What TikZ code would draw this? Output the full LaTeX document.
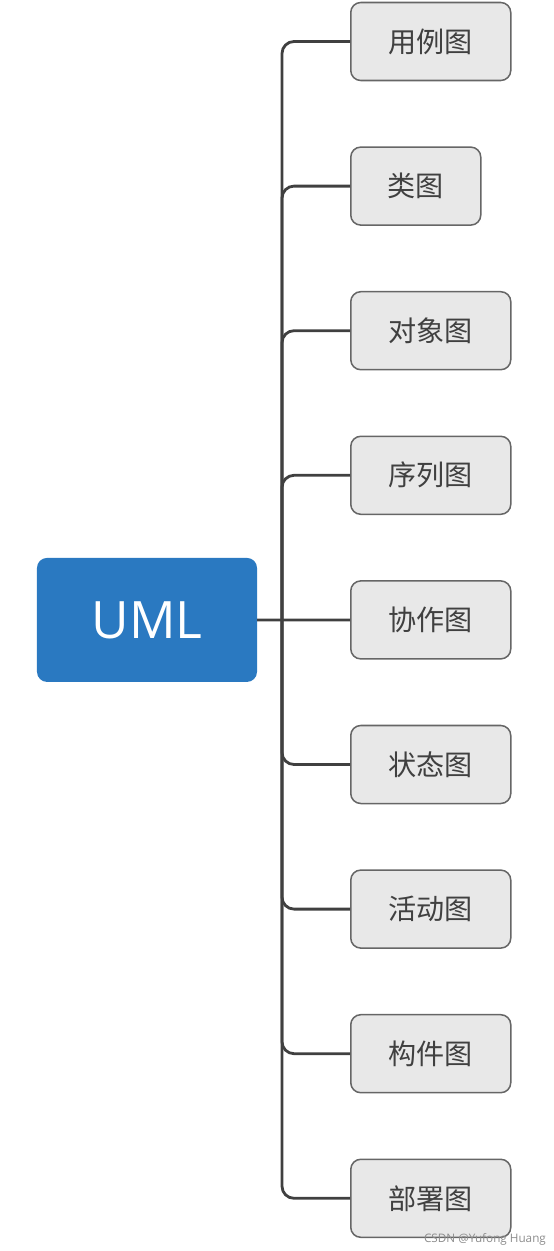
\documentclass[tikz,border=0pt]{standalone}
\usepackage{fontspec}
\setmainfont{Open Sans}
\newfontfamily\cjk{Noto Sans CJK SC}
\usetikzlibrary{positioning}
\definecolor{umlblue}{HTML}{2A79C1}
\definecolor{leafgray}{HTML}{E8E8E8}
\definecolor{linegray}{HTML}{404040}

\begin{document}
\begin{tikzpicture}[x=0.03cm, y=-0.03cm,
    root/.style={rectangle, rounded corners=0.3cm, fill=umlblue, text=white,
        minimum width=6.6cm, minimum height=3.72cm, font=\fontsize{44}{44}\selectfont},
    leaf/.style={rectangle, rounded corners=0.3cm, draw=linegray!80, line width=1.3pt,
        fill=leafgray, text=black!75, minimum height=2.34cm, anchor=west,
        font=\cjk\fontsize{24}{24}\selectfont},
    link/.style={draw=linegray, line width=2.4pt}]
    \useasboundingbox (0,0) rectangle (553,1251);

    \node[root] (uml) at (147,619.9) {UML};
    \coordinate (tr) at (282,619.9);

    % name/width of each diagram box, top to bottom
    \foreach \name/\boxw [count=\i] in {用例图/4.8, 类图/3.9, 对象图/4.8, 序列图/4.8, 协作图/4.8,
            状态图/4.8, 活动图/4.8, 构件图/4.8, 部署图/4.8} {
        \node[leaf, minimum width=\boxw cm] (c\i) at (350, {41.5+(\i-1)*144.6}) {\name};
    }

    \draw[link] (uml.east) -- (c5.west);
    \foreach \i in {1,2,3,4,6,7,8,9} {
        \draw[link, rounded corners=0.36cm] (tr) |- (c\i.west);
    }

    \node[anchor=south east, text=black!45, font=\fontsize{10}{10}\selectfont]
        (mark) at (550,1249) {CSDN @Yufong Huang};
\end{tikzpicture}
\end{document}
